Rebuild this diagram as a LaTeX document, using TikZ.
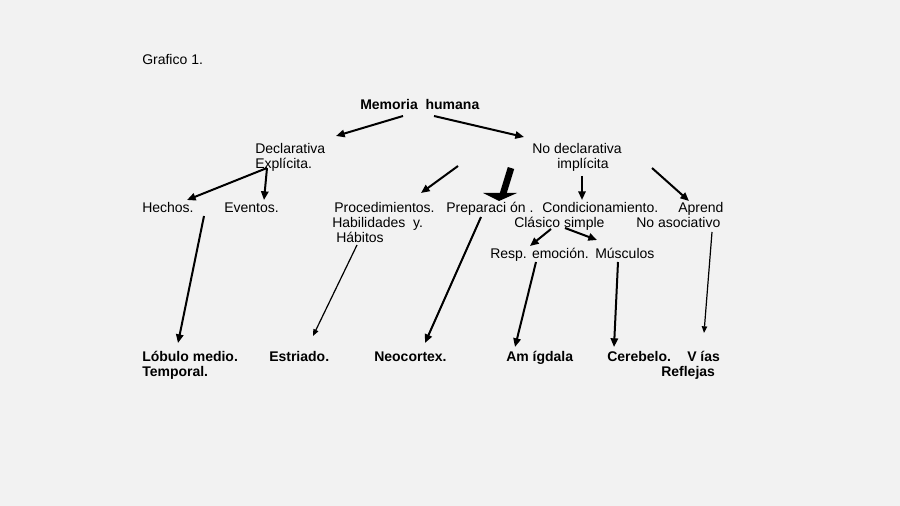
\documentclass[tikz,border=0pt]{standalone}
\usepackage{fontspec}
\setmainfont{Liberation Sans}
\usetikzlibrary{arrows.meta}
\definecolor{bg}{HTML}{F2F2F2}
\begin{document}
\begin{tikzpicture}[x=0.75pt,y=-0.75pt,
  txt/.style={anchor=base west,inner sep=0pt,font=\fontsize{10.5}{12}\selectfont},
  btxt/.style={txt,font=\fontsize{10.5}{12}\selectfont\bfseries},
  conn/.style={line width=1.5pt,-{Triangle[length=6.5pt,width=5.5pt]}},
  thin conn/.style={line width=0.9pt,-{Triangle[length=5pt,width=4pt]}}]
\fill[bg] (0,0) rectangle (900,506);
\useasboundingbox (0,0) rectangle (900,506);
% texts
\node[txt] (graf) at (142,65) {Grafico 1.};
\node[btxt] (mem) at (360,110) {Memoria\ \ humana};
\node[txt] (decl1) at (255,154) {Declarativa};
\node[txt] (decl2) at (255,169) {Explícita.};
\node[txt] (nod1) at (532,154) {No declarativa};
\node[txt] (nod2) at (557,169) {implícita};
\node[txt] (hech) at (142,213) {Hechos.};
\node[txt] (even) at (224,213) {Eventos.};
\node[txt] (proc1) at (334,213) {Procedimientos.};
\node[txt] (proc2) at (332,228) {Habilidades\ \ y.};
\node[txt] (proc3) at (336,243) {Hábitos};
\node[txt] (prep) at (446,213) {Preparaci ón .};
\node[txt] (cond1) at (542,213) {Condicionamiento.};
\node[txt] (cond2) at (514,228) {Clásico simple};
\node[txt] (apr1) at (678,213) {Aprend};
\node[txt] (apr2) at (636,228) {No asociativo};
\node[txt] (resp) at (490,258) {Resp. emoción.};
\node[txt] (musc) at (595,258) {Músculos};
\node[btxt] (lob1) at (142,361) {Lóbulo medio.};
\node[btxt] (lob2) at (142,376) {Temporal.};
\node[btxt] (estr) at (269,361) {Estriado.};
\node[btxt] (neo) at (374,361) {Neocortex.};
\node[btxt] (amig) at (506,361) {Am ígdala};
\node[btxt] (cere) at (607,361) {Cerebelo.};
\node[btxt] (vias1) at (687,361) {V ías};
\node[btxt] (vias2) at (661,376) {Reflejas};
% connector end points
\coordinate (m1) at (403,116); \coordinate (d0) at (336,136);
\coordinate (m2) at (434,116); \coordinate (n0) at (524,137);
\coordinate (d1) at (267,168); \coordinate (h0) at (187,200);
\coordinate (e0) at (264,200);
\coordinate (p1) at (458,166); \coordinate (p0) at (421,193);
\coordinate (n1) at (582,176); \coordinate (c0) at (582,200);
\coordinate (n2) at (652,168); \coordinate (a0) at (689,201);
\coordinate (cs1) at (551,229); \coordinate (r0) at (530,246);
\coordinate (cs2) at (565,228); \coordinate (mu0) at (597,240);
\coordinate (h1) at (204,216); \coordinate (l0) at (178,343);
\coordinate (hb1) at (357,245); \coordinate (es0) at (313,336);
\coordinate (pr1) at (481,217); \coordinate (ne0) at (425,343);
\coordinate (rs1) at (536,262); \coordinate (am0) at (515,347);
\coordinate (mu1) at (618,262); \coordinate (ce0) at (614,347);
\coordinate (na1) at (712,232); \coordinate (vi0) at (704,333);
\coordinate (bk1) at (511,168); \coordinate (bk2) at (503,194);
\coordinate (bkl) at (483,193); \coordinate (bkr) at (517,193); \coordinate (bkt) at (499,201);
% connectors
\draw[conn] (m1) -- (d0);
\draw[conn] (m2) -- (n0);
\draw[conn] (d1) -- (h0);
\draw[conn] (d1) -- (e0);
\draw[conn] (p1) -- (p0);
\draw[conn] (n1) -- (c0);
\draw[conn] (n2) -- (a0);
\draw[conn] (cs1) -- (r0);
\draw[conn] (cs2) -- (mu0);
\draw[conn] (h1) -- (l0);
\draw[thin conn] (hb1) -- (es0);
\draw[conn] (pr1) -- (ne0);
\draw[conn] (rs1) -- (am0);
\draw[conn] (mu1) -- (ce0);
\draw[thin conn] (na1) -- (vi0);
% block arrow
\draw[line width=5pt] (bk1) -- (bk2);
\fill (bkl) -- (bkr) -- (bkt) -- cycle;
\end{tikzpicture}
\end{document}
